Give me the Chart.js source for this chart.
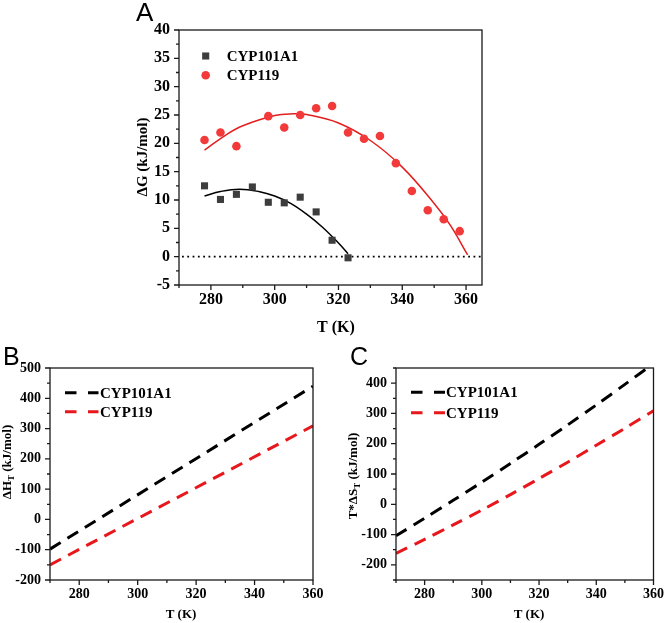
<!DOCTYPE html>
<html><head><meta charset="utf-8">
<script src="https://cdn.jsdelivr.net/npm/chart.js@4.4.1/dist/chart.umd.min.js"></script>
<style>
html,body{margin:0;padding:0;background:#fff;}
#wrap{position:relative;width:670px;height:623px;overflow:hidden;}
canvas{position:absolute;}
</style></head>
<body><div id="wrap">
<canvas id="ca" width="400" height="340" style="left:100px;top:0px"></canvas>
<canvas id="cb" width="335" height="283" style="left:0px;top:340px"></canvas>
<canvas id="cc" width="335" height="283" style="left:335px;top:340px"></canvas>
</div>
<script>
// ---------- Panel A data ----------
const T_A1 = [278,283,288,293,298,303,308,313,318,323];
const dG_A1 = [12.5,10.1,11.0,12.3,9.6,9.5,10.5,7.9,2.9,-0.2];
const T_119 = [278,283,288,298,303,308,313,318,323,328,333,338,343,348,353,358];
const dG_119 = [20.6,21.9,19.5,24.8,22.8,25.0,26.2,26.6,21.9,20.8,21.3,16.5,11.6,8.2,6.6,4.5];
const fitT_A1 = [278,283,289,295,300,305,310,315,320,323];
const fitG_A1 = [10.7,11.5,11.9,11.5,10.7,9.4,7.5,5.2,2.4,0.5];
const fitT_119 = [278,285,290,300,306,310,320,330,340,350,355,360.5];
const fitG_119 = [18.8,21.6,23.1,24.9,25.2,25.1,23.6,20.5,15.8,9.4,5.6,0.3];
const xTicksA = [280,300,320,340,360];
const yTicksA = [-5,0,5,10,15,20,25,30,35,40];

// ---------- Panel B data ----------
const T_B = [270,360];
const dH_A1 = [-98,440];
const dH_119 = [-150,309];
const xTicksB = [280,300,320,340,360];
const yTicksB = [-200,-100,0,100,200,300,400,500];

// ---------- Panel C data ----------
const T_C = [270,280,290,300,310,320,330,340,350,360];
const TdS_A1 = [-104,-46,13,73,135,198,262,328,396,465];
const TdS_119 = [-162,-116,-68,-19,32,85,139,195,251,309];
const xTicksC = [280,300,320,340,360];
const yTicksC = [-200,-100,0,100,200,300,400];

const seriesNames = ['CYP101A1','CYP119'];
const BLACK = '#000000', RED = '#e8171c';
const SQ = '#3d3d3d', CIRC = '#f23a3a', FITRED = '#e41e1e';
const SERIF = '"Liberation Serif", "Times New Roman", serif';
const SANS = '"Liberation Sans", Arial, sans-serif';
const DASH = [12.5, 8];

const pts = (xs, ys) => xs.map((x,i)=>({x, y: ys[i]}));
const minorBetween = (ticks, step, lo, hi) => {
  const out = [];
  for (let v = lo; v <= hi + 1e-9; v += step) {
    if (!ticks.some(t => Math.abs(t - v) < 1e-9)) out.push(v);
  }
  return out;
};

function drawTitle(ctx, x, y, parts, size, rotate) {
  ctx.save();
  ctx.translate(x, y);
  if (rotate) ctx.rotate(-Math.PI/2);
  ctx.fillStyle = '#000';
  ctx.textBaseline = 'middle';
  ctx.textAlign = 'left';
  let w = 0;
  const sizes = parts.map(p => p.sub ? Math.round(size*0.68) : size);
  parts.forEach((p,i) => { ctx.font = 'bold ' + sizes[i] + 'px ' + SERIF; w += ctx.measureText(p.t).width; });
  let cx = -w/2;
  parts.forEach((p,i) => {
    ctx.font = 'bold ' + sizes[i] + 'px ' + SERIF;
    ctx.fillText(p.t, cx, p.sub ? size*0.32 : 0);
    cx += ctx.measureText(p.t).width;
  });
  ctx.restore();
}

function deco(cfg) {
  return {
    id: 'deco',
    beforeDatasetsDraw(chart) {
      if (!cfg.zeroLine) return;
      const ctx = chart.ctx, ca = chart.chartArea;
      const y = chart.scales.y.getPixelForValue(0);
      ctx.save();
      ctx.strokeStyle = '#000'; ctx.lineWidth = 1.8;
      ctx.setLineDash([1.8, 3.5]);
      ctx.beginPath(); ctx.moveTo(ca.left + 3, y); ctx.lineTo(ca.right, y); ctx.stroke();
      ctx.restore();
    },
    afterDraw(chart) {
      const ctx = chart.ctx, ca = chart.chartArea;
      const xs = chart.scales.x, ys = chart.scales.y;
      ctx.save();
      ctx.strokeStyle = '#1a1a1a'; ctx.lineWidth = 1.3;
      ctx.strokeRect(ca.left, ca.top, ca.right - ca.left, ca.bottom - ca.top);
      ctx.beginPath();
      cfg.xMajor.forEach(v => { const p = xs.getPixelForValue(v); ctx.moveTo(p, ca.bottom); ctx.lineTo(p, ca.bottom + 5); });
      cfg.xMinor.forEach(v => { const p = xs.getPixelForValue(v); ctx.moveTo(p, ca.bottom); ctx.lineTo(p, ca.bottom + 3); });
      cfg.yMajor.forEach(v => { const p = ys.getPixelForValue(v); ctx.moveTo(ca.left, p); ctx.lineTo(ca.left - 5, p); });
      cfg.yMinor.forEach(v => { const p = ys.getPixelForValue(v); ctx.moveTo(ca.left, p); ctx.lineTo(ca.left - 3, p); });
      ctx.stroke();
      // panel letter
      ctx.fillStyle = '#000';
      ctx.font = cfg.letter.size + 'px ' + SANS;
      ctx.textAlign = 'left'; ctx.textBaseline = 'alphabetic';
      ctx.fillText(cfg.letter.t, cfg.letter.x, cfg.letter.y);
      // titles
      drawTitle(ctx, cfg.xTitle.x, cfg.xTitle.y, cfg.xTitle.parts, cfg.xTitle.size, false);
      drawTitle(ctx, cfg.yTitle.x, cfg.yTitle.y, cfg.yTitle.parts, cfg.yTitle.size, true);
      // legend
      const L = cfg.legend;
      ctx.font = 'bold ' + L.size + 'px ' + SERIF;
      ctx.textBaseline = 'middle'; ctx.textAlign = 'left';
      L.items.forEach((it, i) => {
        const ds = chart.data.datasets[it.ds];
        const y = L.ys[i];
        if (L.kind === 'marker') {
          ctx.fillStyle = ds.backgroundColor;
          if (ds.pointStyle === 'rect') {
            const s = ds.pointRadius * Math.SQRT1_2;
            ctx.fillRect(L.mx - s, y - s, 2*s, 2*s);
          } else {
            ctx.beginPath(); ctx.arc(L.mx, y, ds.pointRadius, 0, Math.PI*2); ctx.fill();
          }
        } else {
          ctx.save();
          ctx.strokeStyle = ds.borderColor; ctx.lineWidth = ds.borderWidth;
          ctx.setLineDash(L.dash);
          ctx.beginPath(); ctx.moveTo(L.x0, y); ctx.lineTo(L.x1, y); ctx.stroke();
          ctx.restore();
        }
        ctx.fillStyle = '#000';
        ctx.fillText(it.label, L.tx, y + 1);
      });
      ctx.restore();
    }
  };
}

function baseScales(o) {
  return {
    x: {
      type: 'linear', min: o.xmin, max: o.xmax,
      grid: { display: false, drawTicks: false }, border: { display: false },
      afterBuildTicks: s => { s.ticks = o.xTicks.map(v => ({ value: v })); },
      afterFit: s => { s.height = o.xh; },
      ticks: { color: '#000', padding: o.xpad, maxRotation: 0, font: { family: SERIF, weight: 'bold', size: o.tickSize } }
    },
    y: {
      type: 'linear', min: o.ymin, max: o.ymax,
      grid: { display: false, drawTicks: false }, border: { display: false },
      afterBuildTicks: s => { s.ticks = o.yTicks.map(v => ({ value: v })); },
      afterFit: s => { s.width = o.yw; },
      ticks: { color: '#000', padding: o.ypad, font: { family: SERIF, weight: 'bold', size: o.tickSize } }
    }
  };
}

const common = {
  responsive: false, animation: false, devicePixelRatio: 1,
  plugins: { legend: { display: false }, tooltip: { enabled: false } },
  events: []
};

// ---------- Chart A ----------
new Chart(document.getElementById('ca'), {
  type: 'scatter',
  data: { datasets: [
    { label: seriesNames[0], data: pts(T_A1, dG_A1), pointStyle: 'rect', pointRadius: 5, backgroundColor: SQ, borderWidth: 0, order: 1 },
    { label: seriesNames[1], data: pts(T_119, dG_119), pointStyle: 'circle', pointRadius: 4.3, backgroundColor: CIRC, borderWidth: 0, order: 1 },
    { label: 'fit1', data: pts(fitT_A1, fitG_A1), showLine: true, borderColor: BLACK, borderWidth: 1.5, pointRadius: 0, tension: 0.4, order: 2 },
    { label: 'fit2', data: pts(fitT_119, fitG_119), showLine: true, borderColor: FITRED, borderWidth: 1.5, pointRadius: 0, tension: 0.4, order: 2 }
  ]},
  options: Object.assign({}, common, {
    layout: { padding: { top: 30, right: 18, left: 0, bottom: 0 } },
    scales: baseScales({ xmin: 270, xmax: 365, ymin: -5, ymax: 40, xTicks: xTicksA, yTicks: yTicksA, xh: 55, yw: 79, xpad: 5, ypad: 9, tickSize: 16 })
  }),
  plugins: [deco({
    zeroLine: true,
    xMajor: xTicksA, xMinor: minorBetween(xTicksA, 10, 270, 360),
    yMajor: yTicksA, yMinor: minorBetween(yTicksA, 2.5, -5, 40),
    letter: { t: 'A', x: 36, y: 21, size: 26 },
    xTitle: { x: 236, y: 328, parts: [{ t: 'T (K)' }], size: 16 },
    yTitle: { x: 43, y: 157, parts: [{ t: 'ΔG (kJ/mol)' }], size: 15 },
    legend: { kind: 'marker', size: 15, mx: 105.7, tx: 126.7, ys: [56, 75.3],
      items: [{ ds: 0, label: seriesNames[0] }, { ds: 1, label: seriesNames[1] }] }
  })]
});

// ---------- Chart B ----------
new Chart(document.getElementById('cb'), {
  type: 'scatter',
  data: { datasets: [
    { label: seriesNames[0], data: pts(T_B, dH_A1), showLine: true, borderColor: BLACK, borderWidth: 3, borderDash: DASH, pointRadius: 0 },
    { label: seriesNames[1], data: pts(T_B, dH_119), showLine: true, borderColor: RED, borderWidth: 3, borderDash: DASH, pointRadius: 0 }
  ]},
  options: Object.assign({}, common, {
    layout: { padding: { top: 28, right: 22, left: 0, bottom: 0 } },
    scales: baseScales({ xmin: 270, xmax: 360, ymin: -200, ymax: 500, xTicks: xTicksB, yTicks: yTicksB, xh: 43, yw: 50, xpad: 6, ypad: 9, tickSize: 14 })
  }),
  plugins: [deco({
    zeroLine: false,
    xMajor: xTicksB, xMinor: minorBetween(xTicksB, 10, 270, 360),
    yMajor: yTicksB, yMinor: minorBetween(yTicksB, 50, -200, 500),
    letter: { t: 'B', x: 3, y: 25, size: 25 },
    xTitle: { x: 181, y: 275, parts: [{ t: 'T (K)' }], size: 13 },
    yTitle: { x: 8, y: 122, parts: [{ t: 'ΔH' }, { t: 'T', sub: true }, { t: ' (kJ/mol)' }], size: 13 },
    legend: { kind: 'dash', size: 15, x0: 65, x1: 98.5, dash: [11.5, 11.5], tx: 100, ys: [52.7, 71.7],
      items: [{ ds: 0, label: seriesNames[0] }, { ds: 1, label: seriesNames[1] }] }
  })]
});

// ---------- Chart C ----------
new Chart(document.getElementById('cc'), {
  type: 'scatter',
  data: { datasets: [
    { label: seriesNames[0], data: pts(T_C, TdS_A1), showLine: true, borderColor: BLACK, borderWidth: 3, borderDash: DASH, pointRadius: 0, tension: 0.3 },
    { label: seriesNames[1], data: pts(T_C, TdS_119), showLine: true, borderColor: RED, borderWidth: 3, borderDash: DASH, pointRadius: 0, tension: 0.3 }
  ]},
  options: Object.assign({}, common, {
    layout: { padding: { top: 28, right: 11, left: 0, bottom: 0 } },
    scales: baseScales({ xmin: 270, xmax: 360, ymin: -250, ymax: 450, xTicks: xTicksC, yTicks: yTicksC, xh: 43, yw: 61, xpad: 6, ypad: 9, tickSize: 14 })
  }),
  plugins: [deco({
    zeroLine: false,
    xMajor: xTicksC, xMinor: minorBetween(xTicksC, 10, 270, 360),
    yMajor: yTicksC, yMinor: minorBetween(yTicksC, 50, -250, 450),
    letter: { t: 'C', x: 15, y: 25, size: 25 },
    xTitle: { x: 194, y: 275, parts: [{ t: 'T (K)' }], size: 13 },
    yTitle: { x: 19, y: 136, parts: [{ t: 'T*ΔS' }, { t: 'T', sub: true }, { t: ' (kJ/mol)' }], size: 13 },
    legend: { kind: 'dash', size: 15, x0: 76, x1: 110, dash: [11.5, 11.5], tx: 111, ys: [52.3, 72.7],
      items: [{ ds: 0, label: seriesNames[0] }, { ds: 1, label: seriesNames[1] }] }
  })]
});
</script>
</body></html>
